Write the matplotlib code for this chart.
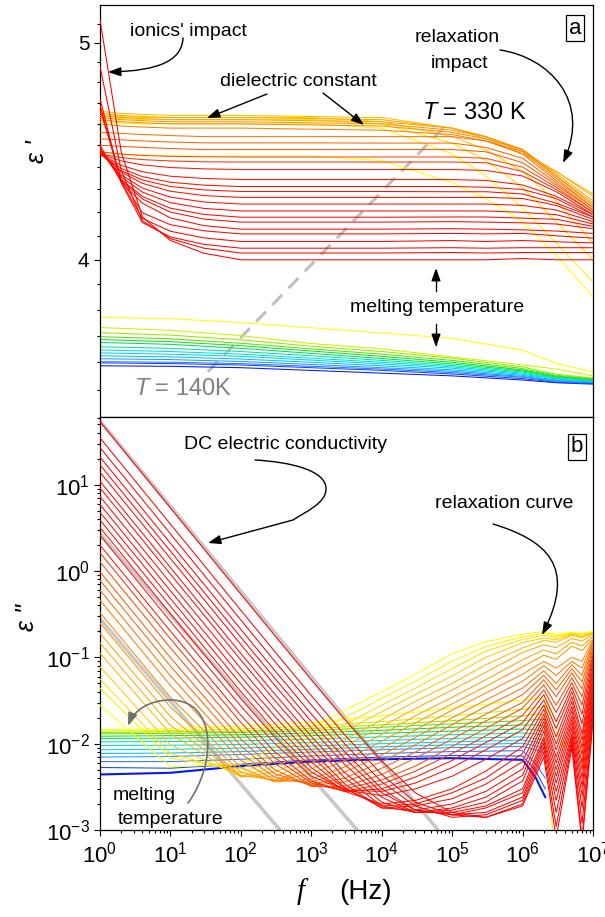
import numpy as np
import matplotlib
matplotlib.use('Agg')
import matplotlib.pyplot as plt
from matplotlib.colors import LinearSegmentedColormap
from matplotlib.patches import FancyArrowPatch
from matplotlib.path import Path
from matplotlib.ticker import FixedLocator, LogLocator, NullFormatter, FixedFormatter

plt.rcParams['font.family'] = ['Liberation Sans', 'DejaVu Sans']
plt.rcParams['mathtext.fontset'] = 'custom'
plt.rcParams['mathtext.rm'] = 'Liberation Sans'
plt.rcParams['mathtext.it'] = 'Liberation Sans:italic'

# frequency grids (Hz)
freq_eps1_liq = [1, 2, 4, 10, 30, 1e2, 1e3, 1e4, 1e5, 3e5, 1e6, 3e6, 1e7]
freq_eps2_liq = [1, 10, 1e2, 3e2, 1e3, 3e3, 1e4, 3e4, 1e5, 3e5, 1e6, 2e6, 3e6, 5e6, 7e6, 1e7]
freq_eps1_sol = [1, 10, 1e2, 1e3, 1e4, 1e5, 1e6, 3e6, 1e7]
freq_eps2_sol = [1, 10, 1e2, 1e3, 1e4, 1e5, 1e6, 1.5e6, 2.1e6]

# solid phase: 140 K (blue) ... just below melting (yellow)
eps1_solid = [
    [3.587, 3.585, 3.58, 3.57, 3.56, 3.55, 3.535, 3.525, 3.52],
    [3.598, 3.595, 3.59, 3.58, 3.57, 3.557, 3.54, 3.527, 3.522],
    [3.602, 3.6, 3.595, 3.585, 3.575, 3.562, 3.545, 3.53, 3.525],
    [3.613, 3.61, 3.603, 3.592, 3.58, 3.567, 3.548, 3.532, 3.527],
    [3.624, 3.62, 3.612, 3.6, 3.587, 3.572, 3.552, 3.535, 3.528],
    [3.635, 3.63, 3.622, 3.608, 3.594, 3.578, 3.556, 3.538, 3.53],
    [3.646, 3.64, 3.63, 3.615, 3.6, 3.583, 3.56, 3.54, 3.532],
    [3.658, 3.652, 3.64, 3.624, 3.607, 3.588, 3.564, 3.543, 3.534],
    [3.674, 3.667, 3.652, 3.633, 3.614, 3.594, 3.568, 3.546, 3.536],
    [3.685, 3.677, 3.662, 3.642, 3.622, 3.6, 3.572, 3.549, 3.538],
    [3.696, 3.688, 3.671, 3.65, 3.63, 3.607, 3.577, 3.552, 3.54],
    [3.711, 3.702, 3.684, 3.66, 3.64, 3.615, 3.583, 3.556, 3.542],
    [3.731, 3.72, 3.70, 3.67, 3.65, 3.62, 3.59, 3.575, 3.55],
    [3.77, 3.765, 3.75, 3.73, 3.71, 3.69, 3.645, 3.595, 3.565],
]
eps2_solid = [
    [0.0044, 0.0046, 0.0055, 0.0062, 0.0066, 0.0068, 0.0065, 0.0042, 0.0024],
    [0.0053, 0.0052, 0.0058, 0.0065, 0.007, 0.0073, 0.0072, 0.005, 0.003],
    [0.0062, 0.0062, 0.0066, 0.0072, 0.0077, 0.0081, 0.0083, 0.006, 0.004],
    [0.007, 0.0071, 0.0075, 0.008, 0.0085, 0.009, 0.0093, 0.0085, 0.0078],
    [0.0077, 0.0078, 0.0081, 0.0086, 0.0092, 0.0097, 0.0101, 0.0095, 0.0088],
    [0.0085, 0.0086, 0.0089, 0.0094, 0.01, 0.0105, 0.011, 0.0105, 0.0098],
    [0.0095, 0.0096, 0.0098, 0.0103, 0.0109, 0.0115, 0.012, 0.0115, 0.011],
    [0.0105, 0.0106, 0.0108, 0.0113, 0.012, 0.0127, 0.0133, 0.013, 0.0125],
    [0.0115, 0.0116, 0.0119, 0.0124, 0.0132, 0.014, 0.0148, 0.0145, 0.014],
    [0.0122, 0.0124, 0.0127, 0.0133, 0.0143, 0.0155, 0.0165, 0.0165, 0.016],
    [0.013, 0.0132, 0.0135, 0.0142, 0.0155, 0.017, 0.0185, 0.019, 0.019],
    [0.0135, 0.0137, 0.014, 0.015, 0.0165, 0.0185, 0.021, 0.022, 0.022],
    [0.014, 0.0142, 0.0148, 0.016, 0.018, 0.021, 0.025, 0.026, 0.027],
    [0.0145, 0.015, 0.016, 0.0175, 0.021, 0.026, 0.032, 0.033, 0.034],
]
# high-frequency tails of the two warmest solid curves
tail_freq_1 = [2.1e6, 3.6e6, 5.9e6, 7.7e6, 1e7]
tail_eps2_1 = [0.034, 0.0092, 0.0136, 0.0053, 0.0117]
tail_freq_2 = [2.1e6, 2.7e6]
tail_eps2_2 = [0.027, 0.0008]

# liquid phase: just above melting (yellow) ... 330 K (red)
eps1_liquid = [
    [4.47, 4.46, 4.455, 4.452, 4.45, 4.45, 4.45, 4.43, 4.33, 4.26, 4.16, 4.02, 3.85],
    [4.61, 4.605, 4.60, 4.60, 4.60, 4.60, 4.60, 4.58, 4.46, 4.36, 4.22, 4.07, 3.91],
    [4.63, 4.625, 4.62, 4.62, 4.62, 4.62, 4.62, 4.60, 4.51, 4.43, 4.31, 4.16, 4.00],
    [4.64, 4.635, 4.63, 4.63, 4.63, 4.63, 4.63, 4.61, 4.54, 4.48, 4.38, 4.25, 4.07],
    [4.66, 4.65, 4.645, 4.64, 4.64, 4.64, 4.635, 4.63, 4.58, 4.53, 4.46, 4.38, 4.28],
    [4.65, 4.64, 4.635, 4.63, 4.63, 4.63, 4.625, 4.62, 4.58, 4.54, 4.47, 4.38, 4.27],
    [4.64, 4.63, 4.625, 4.62, 4.62, 4.62, 4.615, 4.61, 4.58, 4.54, 4.48, 4.37, 4.25],
    [4.63, 4.62, 4.615, 4.61, 4.61, 4.61, 4.605, 4.60, 4.57, 4.54, 4.48, 4.36, 4.24],
    [4.62, 4.61, 4.605, 4.60, 4.60, 4.60, 4.595, 4.59, 4.56, 4.53, 4.48, 4.36, 4.23],
    [4.60, 4.59, 4.585, 4.58, 4.58, 4.58, 4.575, 4.57, 4.55, 4.52, 4.47, 4.35, 4.22],
    [4.56, 4.555, 4.55, 4.545, 4.54, 4.54, 4.54, 4.54, 4.54, 4.52, 4.46, 4.34, 4.22],
    [4.53, 4.525, 4.52, 4.515, 4.511, 4.511, 4.511, 4.51, 4.51, 4.49, 4.44, 4.33, 4.21],
    [4.50, 4.495, 4.49, 4.485, 4.48, 4.48, 4.48, 4.48, 4.48, 4.47, 4.42, 4.32, 4.21],
    [4.47, 4.459, 4.453, 4.449, 4.447, 4.446, 4.446, 4.446, 4.446, 4.44, 4.40, 4.31, 4.20],
    [4.46, 4.443, 4.434, 4.428, 4.424, 4.423, 4.423, 4.423, 4.423, 4.42, 4.38, 4.30, 4.20],
    [4.46, 4.428, 4.41, 4.398, 4.392, 4.389, 4.389, 4.389, 4.389, 4.385, 4.36, 4.29, 4.19],
    [4.46, 4.408, 4.379, 4.359, 4.349, 4.344, 4.344, 4.344, 4.344, 4.34, 4.32, 4.27, 4.19],
    [4.46, 4.394, 4.357, 4.332, 4.319, 4.313, 4.313, 4.313, 4.313, 4.31, 4.30, 4.26, 4.18],
    [4.46, 4.384, 4.342, 4.313, 4.298, 4.291, 4.291, 4.291, 4.29, 4.29, 4.28, 4.24, 4.18],
    [4.47, 4.378, 4.327, 4.292, 4.273, 4.265, 4.265, 4.265, 4.265, 4.265, 4.26, 4.23, 4.17],
    [4.47, 4.365, 4.306, 4.266, 4.245, 4.236, 4.236, 4.236, 4.236, 4.236, 4.23, 4.21, 4.16],
    [4.48, 4.357, 4.288, 4.242, 4.217, 4.206, 4.206, 4.206, 4.206, 4.206, 4.20, 4.19, 4.15],
    [4.48, 4.345, 4.269, 4.218, 4.191, 4.179, 4.179, 4.179, 4.18, 4.18, 4.175, 4.17, 4.14],
    [4.49, 4.341, 4.258, 4.201, 4.171, 4.158, 4.158, 4.158, 4.16, 4.158, 4.155, 4.15, 4.13],
    [4.50, 4.333, 4.240, 4.176, 4.143, 4.128, 4.128, 4.128, 4.13, 4.128, 4.125, 4.12, 4.11],
    [4.67, 4.344, 4.198, 4.147, 4.121, 4.108, 4.108, 4.108, 4.11, 4.108, 4.11, 4.10, 4.09],
    [4.69, 4.334, 4.174, 4.119, 4.091, 4.076, 4.076, 4.076, 4.08, 4.076, 4.08, 4.075, 4.07],
    [4.72, 4.330, 4.156, 4.095, 4.064, 4.048, 4.048, 4.048, 4.05, 4.048, 4.05, 4.05, 4.05],
    [4.88, 4.386, 4.164, 4.088, 4.048, 4.028, 4.028, 4.028, 4.03, 4.028, 4.03, 4.03, 4.03],
    [5.12, 4.47, 4.18, 4.08, 4.027, 4.0, 4.0, 4.0, 4.0, 4.0, 4.005, 4.0, 4.0],
]
eps2_liquid = [
    [0.028, 0.0054, 0.0058, 0.0089, 0.015, 0.0244, 0.04, 0.0635, 0.11, 0.152, 0.185, 0.2, 0.185, 0.195, 0.19, 0.2],
    [0.044, 0.0068, 0.0051, 0.0074, 0.0124, 0.0201, 0.0334, 0.0528, 0.09, 0.134, 0.173, 0.19, 0.178, 0.19, 0.185, 0.197],
    [0.056, 0.0077, 0.0046, 0.0063, 0.0103, 0.0166, 0.028, 0.044, 0.074, 0.118, 0.161, 0.18, 0.17, 0.188, 0.18, 0.195],
    [0.078, 0.0097, 0.0042, 0.0054, 0.0085, 0.014, 0.0234, 0.037, 0.061, 0.10, 0.148, 0.168, 0.16, 0.185, 0.175, 0.193],
    [0.112, 0.013, 0.0041, 0.0047, 0.007, 0.0112, 0.019, 0.031, 0.05, 0.082, 0.129, 0.157, 0.15, 0.18, 0.17, 0.19],
    [0.147, 0.0163, 0.0042, 0.0042, 0.006, 0.0094, 0.0158, 0.0255, 0.042, 0.067, 0.114, 0.14, 0.13, 0.165, 0.155, 0.186],
    [0.19, 0.0206, 0.0043, 0.0038, 0.0051, 0.0077, 0.0128, 0.021, 0.0345, 0.055, 0.094, 0.122, 0.11, 0.15, 0.135, 0.176],
    [0.25, 0.0265, 0.0047, 0.0037, 0.0045, 0.0064, 0.0107, 0.0174, 0.029, 0.046, 0.078, 0.106, 0.095, 0.135, 0.12, 0.165],
    [0.33, 0.0344, 0.0053, 0.0036, 0.0039, 0.0054, 0.0088, 0.0144, 0.0245, 0.0385, 0.064, 0.09, 0.075, 0.1, 0.09, 0.16],
    [0.46, 0.0473, 0.0064, 0.0038, 0.0036, 0.0047, 0.0074, 0.0118, 0.020, 0.032, 0.053, 0.08, 0.062, 0.09, 0.075, 0.155],
    [0.6, 0.0612, 0.0077, 0.0041, 0.0034, 0.004, 0.0062, 0.0097, 0.0166, 0.027, 0.044, 0.07, 0.05, 0.082, 0.062, 0.15],
    [0.78, 0.0792, 0.0094, 0.0045, 0.0033, 0.0036, 0.0052, 0.008, 0.0136, 0.022, 0.037, 0.062, 0.042, 0.074, 0.052, 0.14],
    [0.98, 0.0992, 0.0113, 0.005, 0.0032, 0.0032, 0.0044, 0.0068, 0.0113, 0.0183, 0.030, 0.055, 0.035, 0.066, 0.043, 0.13],
    [1.28, 0.129, 0.0142, 0.0059, 0.0033, 0.003, 0.0038, 0.0055, 0.0093, 0.015, 0.0258, 0.048, 0.028, 0.058, 0.035, 0.12],
    [1.63, 0.164, 0.0176, 0.0069, 0.0035, 0.0028, 0.0034, 0.0048, 0.0077, 0.0123, 0.0213, 0.042, 0.023, 0.051, 0.028, 0.11],
    [2.0, 0.201, 0.0213, 0.0081, 0.0037, 0.0028, 0.003, 0.0041, 0.0064, 0.0103, 0.0175, 0.037, 0.018, 0.045, 0.022, 0.1],
    [2.6, 0.261, 0.0272, 0.0101, 0.0042, 0.0029, 0.0028, 0.0035, 0.0053, 0.0085, 0.0145, 0.032, 0.015, 0.04, 0.017, 0.09],
    [3.2, 0.321, 0.0332, 0.012, 0.0047, 0.0029, 0.0025, 0.003, 0.0042, 0.0066, 0.0115, 0.028, 0.012, 0.035, 0.013, 0.08],
    [3.9, 0.391, 0.0402, 0.0143, 0.0053, 0.0028, 0.002, 0.0022, 0.003, 0.0048, 0.0092, 0.025, 0.01, 0.031, 0.011, 0.072],
    [4.8, 0.481, 0.0492, 0.0173, 0.0061, 0.003, 0.0019, 0.002, 0.0027, 0.004, 0.0077, 0.022, 0.0085, 0.027, 0.009, 0.064],
    [5.9, 0.591, 0.0602, 0.021, 0.0072, 0.0031, 0.0018, 0.0019, 0.0023, 0.0034, 0.0062, 0.02, 0.007, 0.024, 0.0075, 0.057],
    [7.3, 0.731, 0.0742, 0.0256, 0.0085, 0.0034, 0.0018, 0.0017, 0.002, 0.0028, 0.0051, 0.018, 0.006, 0.021, 0.006, 0.05],
    [9.2, 0.921, 0.0932, 0.032, 0.0104, 0.004, 0.0019, 0.0016, 0.0018, 0.0024, 0.0043, 0.016, 0.005, 0.019, 0.005, 0.045],
    [11, 1.1, 0.111, 0.038, 0.0122, 0.0046, 0.0021, 0.0016, 0.0017, 0.0021, 0.0037, 0.014, 0.0042, 0.017, 0.004, 0.04],
    [14, 1.4, 0.141, 0.0479, 0.0151, 0.0057, 0.0024, 0.0016, 0.0016, 0.0019, 0.003, 0.012, 0.0035, 0.015, 0.0032, 0.035],
    [17, 1.7, 0.171, 0.0579, 0.0181, 0.0067, 0.0027, 0.0017, 0.0015, 0.0018, 0.0027, 0.011, 0.0028, 0.013, 0.0025, 0.031],
    [21, 2.1, 0.211, 0.0712, 0.0221, 0.008, 0.003, 0.0017, 0.0015, 0.0016, 0.0024, 0.01, 0.0022, 0.012, 0.0018, 0.027],
    [27, 2.7, 0.271, 0.0911, 0.0281, 0.0099, 0.0036, 0.0019, 0.0014, 0.0015, 0.0022, 0.009, 0.0016, 0.011, 0.0012, 0.024],
    [35, 3.5, 0.351, 0.118, 0.0361, 0.0126, 0.0044, 0.0021, 0.0015, 0.0014, 0.002, 0.008, 0.0011, 0.01, 0.0008, 0.021],
    [54, 5.4, 0.54, 0.181, 0.0551, 0.019, 0.0063, 0.0027, 0.0016, 0.0014, 0.0019, 0.007, 0.0008, 0.009, 0.0007, 0.018],
]

# DC-conductivity guide lines (grey) and the temperature-direction arrow
dc_fit_freq = [[1, 6.3e4], [1, 4.5e3], [1, 360]]
dc_fit_eps2 = [[55, 1e-3], [2.7, 1e-3], [0.28, 1e-3]]
temp_line_freq = [34, 8.5e4]
temp_line_eps1 = [3.565, 4.60]

solid_cmap = LinearSegmentedColormap.from_list(
    'solid', ['#0018ff', '#2f7dff', '#00c8ff', '#00e6c8', '#00dc28', '#8ee600', '#ffff00'])
liquid_cmap = LinearSegmentedColormap.from_list(
    'liquid', [(0, '#ffff00'), (0.15, '#ffb400'), (0.3, '#ff8200'),
               (0.45, '#ff4a00'), (0.52, '#ff1400'), (1, '#ff0000')])

W, H = 605, 917
fig = plt.figure(figsize=(W / 100, H / 100), dpi=100)


def fp(x, y):
    return (x / W, 1 - y / H)


ax1 = fig.add_axes([100 / W, 1 - 417 / H, 493 / W, 412 / H])
ax2 = fig.add_axes([100 / W, 1 - 830 / H, 493 / W, 413 / H])

n_sol = len(eps1_solid)
n_liq = len(eps1_liquid)

for f, e in zip(dc_fit_freq, dc_fit_eps2):
    ax2.plot(f, e, color='#c8c8c8', lw=2.6, solid_capstyle='butt', zorder=1)
ax1.plot(temp_line_freq, temp_line_eps1, color='#c0c0c0', lw=2.2,
         dashes=(4.6, 3), zorder=1)

for j in range(n_sol):
    c = solid_cmap(j / (n_sol - 1))
    ax1.plot(freq_eps1_sol, eps1_solid[j], color=c, lw=0.75, zorder=2)
    ax2.plot(freq_eps2_sol, eps2_solid[j], color=c, lw=1.5 if j == 0 else 0.75, zorder=2)
ax2.plot(tail_freq_1, tail_eps2_1, color=solid_cmap(1.0), lw=0.75, zorder=2)
ax2.plot(tail_freq_2, tail_eps2_2, color=solid_cmap(12 / 13), lw=0.75, zorder=2)

for k in range(n_liq):
    c = liquid_cmap(k / (n_liq - 1))
    ax1.plot(freq_eps1_liq, eps1_liquid[k], color=c, lw=0.75, zorder=3)
    ax2.plot(freq_eps2_liq, eps2_liquid[k], color=c, lw=0.75, zorder=3)

# axes setup
for ax in (ax1, ax2):
    ax.set_xscale('log')
    ax.set_yscale('log')
    ax.set_xlim(1, 1e7)
    ax.xaxis.set_major_locator(LogLocator(base=10, numticks=12))
    ax.xaxis.set_minor_locator(LogLocator(base=10, subs=np.arange(2, 10), numticks=12))
    ax.xaxis.set_minor_formatter(NullFormatter())
    ax.tick_params(which='both', direction='out', top=False, right=False, width=0.8,
                   labelsize=16, pad=3)
    ax.tick_params(which='major', length=4.5)
    ax.tick_params(which='minor', length=2.3)
    for s in ax.spines.values():
        s.set_linewidth(0.9)

ax1.set_ylim(3.403, 5.198)
ax1.yaxis.set_major_locator(FixedLocator([4, 5]))
ax1.yaxis.set_major_formatter(FixedFormatter(['4', '5']))
ax1.yaxis.set_minor_locator(FixedLocator([v / 10 for v in range(35, 52) if v not in (40, 50)]))
ax1.yaxis.set_minor_formatter(NullFormatter())
ax1.tick_params(axis='x', labelbottom=False)
ax1.tick_params(axis='y', labelsize=15)

ax2.set_ylim(1e-3, 61)
ax2.yaxis.set_major_locator(LogLocator(base=10, numticks=10))
ax2.yaxis.set_minor_locator(LogLocator(base=10, subs=np.arange(2, 10), numticks=10))
ax2.yaxis.set_minor_formatter(NullFormatter())
ax2.tick_params(axis='x', pad=4)

# axis labels
fig.text(*fp(37, 152), "ε '", rotation=90, ha='center', va='center', fontsize=18,
         style='italic')
fig.text(*fp(27, 618), 'ε "', rotation=90, ha='center', va='center', fontsize=18,
         style='italic')
fig.text(*fp(301, 892), 'f', family='Liberation Serif', style='italic', fontsize=21,
         ha='center', va='center')
fig.text(*fp(366, 892), '(Hz)', fontsize=20, ha='center', va='center')

# annotations
fs = 14
fig.text(*fp(188, 31), "ionics' impact", fontsize=fs, ha='center', va='center')
fig.text(*fp(298, 82), 'dielectric constant', fontsize=fs, ha='center', va='center')
fig.text(*fp(457, 38), 'relaxation', fontsize=fs, ha='center', va='center')
fig.text(*fp(460, 63), 'impact', fontsize=fs, ha='center', va='center')
fig.text(*fp(474, 113), '$T$ = 330 K', fontsize=17, ha='center', va='center')
fig.text(*fp(183, 389), '$T$ = 140K', fontsize=17, ha='center', va='center', color='#808080')
fig.text(*fp(437, 308), 'melting temperature', fontsize=fs, ha='center', va='center')
fig.text(*fp(286, 445), 'DC electric conductivity', fontsize=fs, ha='center', va='center')
fig.text(*fp(504, 503), 'relaxation curve', fontsize=fs, ha='center', va='center')
fig.text(*fp(113, 795), 'melting', fontsize=fs, ha='left', va='center')
fig.text(*fp(118, 819), 'temperature', fontsize=fs, ha='left', va='center')

box = dict(boxstyle='square,pad=0.12', fc='white', ec='black', lw=0.9)
fig.text(*fp(575, 28), 'a', fontsize=16, ha='center', va='center', bbox=box)
fig.text(*fp(577, 447), 'b', fontsize=16, ha='center', va='center', bbox=box)


def arrow(points, codes, color='black', lw=1.0):
    verts = [fp(x, y) for x, y in points]
    p = FancyArrowPatch(path=Path(verts, codes), arrowstyle='-|>,head_length=0.7,head_width=0.25',
                        mutation_scale=11, color=color, lw=lw, transform=fig.transFigure)
    fig.add_artist(p)


M, L, C = Path.MOVETO, Path.LINETO, Path.CURVE4
arrow([(183, 38), (182, 60), (160, 71), (108, 72)], [M, C, C, C])
arrow([(267, 94), (207, 118)], [M, L])
arrow([(323, 93), (364, 125)], [M, L])
arrow([(500, 50), (548, 57), (592, 100), (563, 163)], [M, C, C, C])
arrow([(436, 291), (436, 268)], [M, L])
arrow([(436, 324), (436, 347)], [M, L])
arrow([(255, 460), (290, 462), (325, 470), (326, 488), (327, 503), (305, 512), (293, 520),
       (208, 543)], [M, C, C, C, C, C, C, L])
arrow([(493, 524), (545, 540), (578, 565), (542, 635)], [M, C, C, C])
arrow([(188, 803), (216, 765), (218, 700), (170, 700), (150, 700), (134, 710), (128, 726)],
      [M, C, C, C, C, C, C], color='#707070', lw=1.2)

fig.savefig('out.png', dpi=100)
